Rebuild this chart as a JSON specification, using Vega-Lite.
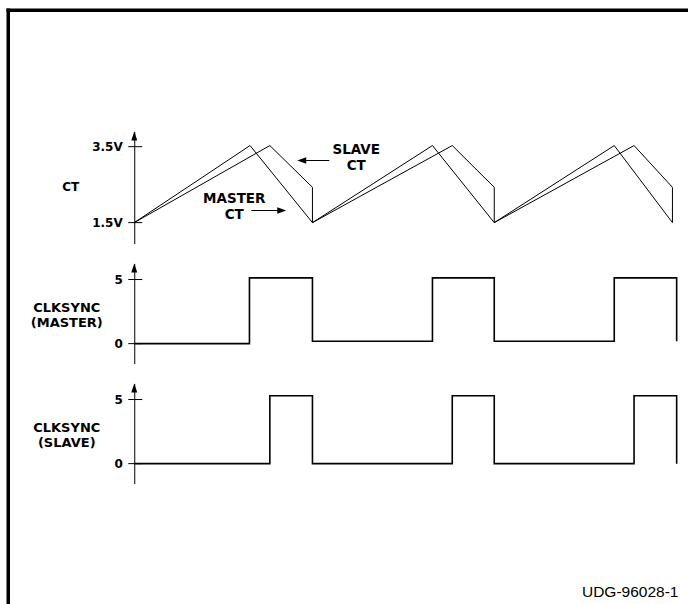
{
  "$schema": "https://vega.github.io/schema/vega-lite/v6.json",
  "background": "white",
  "padding": {"left": 5.25, "top": 7.5, "right": 0, "bottom": 0},
  "bounds": "flush",
  "spacing": 20,
  "config": {
    "view": {"stroke": null},
    "font": "DejaVu Sans",
    "axis": {
      "grid": false,
      "domain": true,
      "domainColor": "black",
      "domainWidth": 1,
      "ticks": false,
      "tickSize": 0,
      "labelPadding": 12,
      "labelFont": "DejaVu Sans",
      "labelFontWeight": "bold",
      "labelFontSize": 12,
      "labelColor": "black",
      "labelOverlap": false,
      "labelFlush": false,
      "labelBound": false,
      "titleFont": "DejaVu Sans",
      "titleFontWeight": "bold",
      "titleFontSize": 13,
      "titleColor": "black",
      "titleAngle": 0,
      "titleAlign": "center",
      "titleBaseline": "middle",
      "titleLineHeight": 15
    }
  },
  "datasets": {
    "one": [{}],
    "ct": [
      {"signal": "MASTER CT", "i": 0, "t": 0, "v": 1.5},
      {"signal": "MASTER CT", "i": 1, "t": 1.93, "v": 3.53},
      {"signal": "MASTER CT", "i": 2, "t": 2.97, "v": 1.5},
      {"signal": "MASTER CT", "i": 3, "t": 4.97, "v": 3.53},
      {"signal": "MASTER CT", "i": 4, "t": 6.0, "v": 1.5},
      {"signal": "MASTER CT", "i": 5, "t": 8.0, "v": 3.53},
      {"signal": "MASTER CT", "i": 6, "t": 8.97, "v": 1.5},
      {"signal": "SLAVE CT", "i": 0, "t": 0, "v": 1.5},
      {"signal": "SLAVE CT", "i": 1, "t": 2.26, "v": 3.53},
      {"signal": "SLAVE CT", "i": 2, "t": 2.97, "v": 2.43},
      {"signal": "SLAVE CT", "i": 3, "t": 2.97, "v": 1.5},
      {"signal": "SLAVE CT", "i": 4, "t": 5.3, "v": 3.53},
      {"signal": "SLAVE CT", "i": 5, "t": 6.0, "v": 2.43},
      {"signal": "SLAVE CT", "i": 6, "t": 6.0, "v": 1.5},
      {"signal": "SLAVE CT", "i": 7, "t": 8.33, "v": 3.53},
      {"signal": "SLAVE CT", "i": 8, "t": 8.97, "v": 2.43},
      {"signal": "SLAVE CT", "i": 9, "t": 8.97, "v": 1.5}
    ],
    "clkm": [
      {"i": 0, "t": 0, "v": 0},
      {"i": 1, "t": 1.92, "v": 0},
      {"i": 2, "t": 1.92, "v": 5.13},
      {"i": 3, "t": 2.97, "v": 5.13},
      {"i": 4, "t": 2.97, "v": 0.19},
      {"i": 5, "t": 4.97, "v": 0.19},
      {"i": 6, "t": 4.97, "v": 5.13},
      {"i": 7, "t": 6.0, "v": 5.13},
      {"i": 8, "t": 6.0, "v": 0.19},
      {"i": 9, "t": 8.0, "v": 0.19},
      {"i": 10, "t": 8.0, "v": 5.13},
      {"i": 11, "t": 9.04, "v": 5.13},
      {"i": 12, "t": 9.04, "v": 0.19}
    ],
    "clks": [
      {"i": 0, "t": 0, "v": 0},
      {"i": 1, "t": 2.26, "v": 0},
      {"i": 2, "t": 2.26, "v": 5.29},
      {"i": 3, "t": 2.97, "v": 5.29},
      {"i": 4, "t": 2.97, "v": 0},
      {"i": 5, "t": 5.3, "v": 0},
      {"i": 6, "t": 5.3, "v": 5.29},
      {"i": 7, "t": 6.0, "v": 5.29},
      {"i": 8, "t": 6.0, "v": 0},
      {"i": 9, "t": 8.33, "v": 0},
      {"i": 10, "t": 8.33, "v": 5.29},
      {"i": 11, "t": 9.04, "v": 5.29},
      {"i": 12, "t": 9.04, "v": 0}
    ]
  },
  "vconcat": [
    {
      "width": 546,
      "height": 112,
      "encoding": {
        "x": {"type": "quantitative", "scale": {"domain": [0, 9.1], "nice": false, "zero": false}, "axis": null},
        "y": {"type": "quantitative", "scale": {"domain": [0.95, 3.9], "nice": false, "zero": false}}
      },
      "layer": [
        {
          "data": {"name": "ct"},
          "mark": {"type": "line", "color": "black", "strokeWidth": 1, "clip": false},
          "encoding": {
            "x": {"field": "t", "type": "quantitative"},
            "y": {"field": "v", "type": "quantitative",
                  "axis": {"values": [1.5, 3.5], "format": ".1f", "labelExpr": "datum.label + 'V'",
                           "title": "CT", "titleX": -64, "titleY": 55, "titleFontSize": 12}},
            "detail": {"field": "signal"},
            "order": {"field": "i"}
          }
        },
        {
          "data": {"name": "one"},
          "mark": {"type": "rule", "color": "black", "strokeWidth": 1},
          "encoding": {"x": {"datum": -0.1}, "x2": {"datum": 0.133}, "y": {"datum": 1.5}}
        },
        {
          "data": {"name": "one"},
          "mark": {"type": "rule", "color": "black", "strokeWidth": 1},
          "encoding": {"x": {"datum": -0.1}, "x2": {"datum": 0.133}, "y": {"datum": 3.5}}
        },
        {
          "data": {"name": "one"},
          "mark": {"type": "point", "shape": "M0,0L-3,9L3,9Z", "size": 4, "filled": true, "color": "black", "opacity": 1, "strokeWidth": 0},
          "encoding": {"x": {"datum": 0}, "y": {"datum": 3.9}}
        },
        {
          "data": {"name": "one"},
          "mark": {"type": "text", "text": "MASTER\nCT", "lineBreak": "\n", "font": "DejaVu Sans", "fontWeight": "bold", "fontSize": 13.5, "lineHeight": 16, "align": "center", "baseline": "middle", "color": "black"},
          "encoding": {"x": {"datum": 1.667}, "y": {"datum": 2.135}}
        },
        {
          "data": {"name": "one"},
          "mark": {"type": "rule", "color": "black", "strokeWidth": 1},
          "encoding": {"x": {"datum": 1.95}, "x2": {"datum": 2.45}, "y": {"datum": 1.819}}
        },
        {
          "data": {"name": "one"},
          "mark": {"type": "point", "shape": "M0,0L-9,-3.2L-9,3.2Z", "size": 4, "filled": true, "color": "black", "opacity": 1, "strokeWidth": 0},
          "encoding": {"x": {"datum": 2.533}, "y": {"datum": 1.819}}
        },
        {
          "data": {"name": "one"},
          "mark": {"type": "text", "text": "SLAVE\nCT", "lineBreak": "\n", "font": "DejaVu Sans", "fontWeight": "bold", "fontSize": 13.5, "lineHeight": 15.5, "align": "center", "baseline": "middle", "color": "black"},
          "encoding": {"x": {"datum": 3.7}, "y": {"datum": 3.4}}
        },
        {
          "data": {"name": "one"},
          "mark": {"type": "rule", "color": "black", "strokeWidth": 1},
          "encoding": {"x": {"datum": 3.25}, "x2": {"datum": 2.8}, "y": {"datum": 3.136}}
        },
        {
          "data": {"name": "one"},
          "mark": {"type": "point", "shape": "M0,0L9,-3.2L9,3.2Z", "size": 4, "filled": true, "color": "black", "opacity": 1, "strokeWidth": 0},
          "encoding": {"x": {"datum": 2.717}, "y": {"datum": 3.136}}
        },
        {
          "data": {"name": "one"},
          "mark": {"type": "rule", "color": "black", "strokeWidth": 3.5, "strokeCap": "square"},
          "encoding": {"x": {"datum": -2.1}, "x2": {"datum": 9.2}, "y": {"datum": 7.094}}
        },
        {
          "data": {"name": "one"},
          "mark": {"type": "rule", "color": "black", "strokeWidth": 3.5, "strokeCap": "square"},
          "encoding": {"x": {"datum": -2.1}, "y": {"datum": 7.094}, "y2": {"datum": -8.506}}
        }
      ]
    },
    {
      "width": 546,
      "height": 100,
      "encoding": {
        "x": {"type": "quantitative", "scale": {"domain": [0, 9.1], "nice": false, "zero": false}, "axis": null},
        "y": {"type": "quantitative", "scale": {"domain": [-1.55, 6.25], "nice": false, "zero": false}}
      },
      "layer": [
        {
          "data": {"name": "clkm"},
          "mark": {"type": "line", "color": "black", "strokeWidth": 1.6, "clip": false},
          "encoding": {
            "x": {"field": "t", "type": "quantitative"},
            "y": {"field": "v", "type": "quantitative",
                  "axis": {"values": [0, 5], "format": "d",
                           "title": ["CLKSYNC", "(MASTER)"], "titleX": -68, "titleY": 44}},
            "order": {"field": "i"}
          }
        },
        {
          "data": {"name": "one"},
          "mark": {"type": "rule", "color": "black", "strokeWidth": 1},
          "encoding": {"x": {"datum": -0.1}, "x2": {"datum": 0.133}, "y": {"datum": 0}}
        },
        {
          "data": {"name": "one"},
          "mark": {"type": "rule", "color": "black", "strokeWidth": 1},
          "encoding": {"x": {"datum": -0.1}, "x2": {"datum": 0.133}, "y": {"datum": 5}}
        },
        {
          "data": {"name": "one"},
          "mark": {"type": "point", "shape": "M0,0L-3,9L3,9Z", "size": 4, "filled": true, "color": "black", "opacity": 1, "strokeWidth": 0},
          "encoding": {"x": {"datum": 0}, "y": {"datum": 6.25}}
        }
      ]
    },
    {
      "width": 546,
      "height": 100,
      "encoding": {
        "x": {"type": "quantitative", "scale": {"domain": [0, 9.1], "nice": false, "zero": false}, "axis": null},
        "y": {"type": "quantitative", "scale": {"domain": [-1.55, 6.25], "nice": false, "zero": false}}
      },
      "layer": [
        {
          "data": {"name": "clks"},
          "mark": {"type": "line", "color": "black", "strokeWidth": 1.6, "clip": false},
          "encoding": {
            "x": {"field": "t", "type": "quantitative"},
            "y": {"field": "v", "type": "quantitative",
                  "axis": {"values": [0, 5], "format": "d",
                           "title": ["CLKSYNC", "(SLAVE)"], "titleX": -68, "titleY": 44}},
            "order": {"field": "i"}
          }
        },
        {
          "data": {"name": "one"},
          "mark": {"type": "rule", "color": "black", "strokeWidth": 1},
          "encoding": {"x": {"datum": -0.1}, "x2": {"datum": 0.133}, "y": {"datum": 0}}
        },
        {
          "data": {"name": "one"},
          "mark": {"type": "rule", "color": "black", "strokeWidth": 1},
          "encoding": {"x": {"datum": -0.1}, "x2": {"datum": 0.133}, "y": {"datum": 5}}
        },
        {
          "data": {"name": "one"},
          "mark": {"type": "point", "shape": "M0,0L-3,9L3,9Z", "size": 4, "filled": true, "color": "black", "opacity": 1, "strokeWidth": 0},
          "encoding": {"x": {"datum": 0}, "y": {"datum": 6.25}}
        },
        {
          "data": {"name": "one"},
          "mark": {"type": "text", "text": "UDG-96028-1", "font": "Liberation Sans", "fontWeight": "normal", "fontSize": 15.5, "align": "right", "baseline": "alphabetic", "color": "black"},
          "encoding": {"x": {"datum": 9.07}, "y": {"datum": -10.44}}
        }
      ]
    }
  ]
}
